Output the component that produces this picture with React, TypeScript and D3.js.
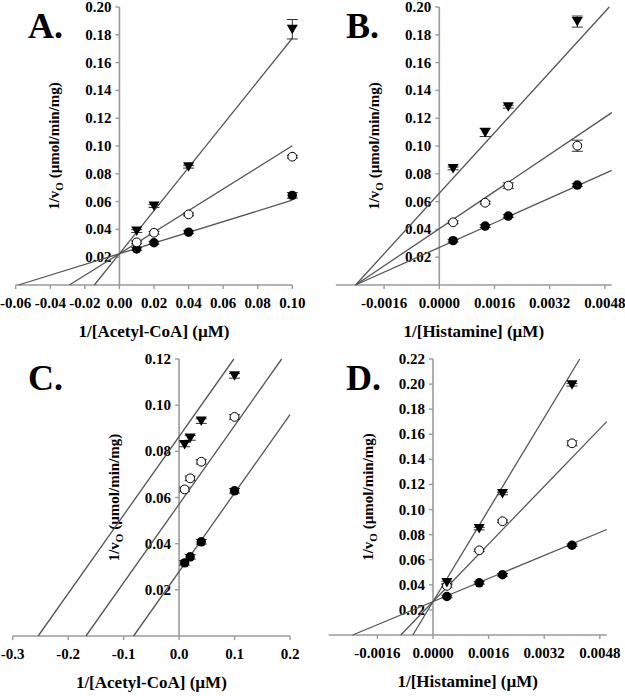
import React from "react";
import * as d3 from "d3";

// ---------- Data ----------
// Panel A: varied Acetyl-CoA
const acoaConc = [0.01, 0.02, 0.04, 0.1];
const aFilled = [0.0259, 0.0304, 0.038, 0.0645];
const aOpen = [0.0307, 0.0376, 0.0508, 0.0923];
const aTri = [0.0388, 0.0568, 0.0851, 0.184];
const aFilledErr = [0.001, 0.001, 0.001, 0.002];
const aOpenErr = [0.001, 0.001, 0.001, 0.001];
const aTriErr = [0.001, 0.001, 0.001, 0.007];
const aIntercepts = [0.0225, 0.0225, 0.0225];
const aSlopes = [0.385, 0.777, 1.55];
const aXTicks = [-0.06, -0.04, -0.02, 0.0, 0.02, 0.04, 0.06, 0.08, 0.1];
const aYTicks = [0.02, 0.04, 0.06, 0.08, 0.1, 0.12, 0.14, 0.16, 0.18, 0.2];

// Panel B: varied Histamine
const histConc = [0.0004, 0.00133, 0.002, 0.004];
const bFilled = [0.0319, 0.0424, 0.0496, 0.0719];
const bOpen = [0.0451, 0.0592, 0.0715, 0.1002];
const bTri = [0.0839, 0.1098, 0.1283, 0.1895];
const bFilledErr = [0.001, 0.001, 0.001, 0.001];
const bOpenErr = [0.001, 0.001, 0.002, 0.004];
const bTriErr = [0.001, 0.003, 0.001, 0.004];
const bIntercepts = [0.027, 0.0405, 0.066];
const bSlopes = [11.1, 16.7, 27.2];
const bXTicks = [-0.0016, 0.0, 0.0016, 0.0032, 0.0048];
const bYTicks = [0.02, 0.04, 0.06, 0.08, 0.1, 0.12, 0.14, 0.16, 0.18, 0.2];

// Panel C: varied Acetyl-CoA
const cFilled = [0.0317, 0.0343, 0.0408, 0.0629];
const cOpen = [0.0635, 0.0683, 0.0755, 0.0949];
const cTri = [0.083, 0.0858, 0.0931, 0.1127];
const cFilledErr = [0.001, 0.001, 0.001, 0.001];
const cOpenErr = [0.001, 0.001, 0.001, 0.001];
const cTriErr = [0.001, 0.001, 0.001, 0.001];
const cIntercepts = [0.0279, 0.0571, 0.0864];
const cSlopes = [0.34, 0.34, 0.34];
const cXTicks = [-0.3, -0.2, -0.1, 0.0, 0.1, 0.2];
const cYTicks = [0.02, 0.04, 0.06, 0.08, 0.1, 0.12];

// Panel D: varied Histamine
const dFilled = [0.0307, 0.0416, 0.048, 0.0715];
const dOpen = [0.0392, 0.0675, 0.0907, 0.1528];
const dTri = [0.0419, 0.0848, 0.1128, 0.1994];
const dFilledErr = [0.001, 0.001, 0.001, 0.001];
const dOpenErr = [0.001, 0.001, 0.001, 0.002];
const dTriErr = [0.001, 0.001, 0.001, 0.001];
const dIntercepts = [0.0266, 0.0266, 0.0266];
const dSlopes = [11.5, 28.7, 45.8];
const dXTicks = [-0.0016, 0.0, 0.0016, 0.0032, 0.0048];
const dYTicks = [0.02, 0.04, 0.06, 0.08, 0.1, 0.12, 0.14, 0.16, 0.18, 0.2, 0.22];

const acoaTitle = "1/[Acetyl-CoA] (\u00b5M)";
const histTitle = "1/[Histamine] (\u00b5M)";

// ---------- Rendering ----------
const FONT = "'Liberation Serif', 'Times New Roman', serif";
const AXIS = "#9a9a9a";
const LINE = "#555";

type Kind = "filled" | "open" | "tri";
interface Series { x: number[]; y: number[]; err: number[]; kind: Kind }

const fmt = (p: number) => (v: number) => d3.format(`.${p}f`)(v).replace("\u2212", "-");

interface PanelProps {
  letter: string;
  letterX: number;
  letterY: number;
  xDomain: [number, number];
  xRange: [number, number];
  yMax: number;
  yRange: [number, number];
  xTicks: number[];
  yTicks: number[];
  xDec: number;
  yDec: number;
  series: Series[];
  intercepts: number[];
  slopes: number[];
  lineEnd: number;
  xTitle: string;
}

function Marker({ kind, cx, cy }: { kind: Kind; cx: number; cy: number }) {
  if (kind === "filled") return <circle cx={cx} cy={cy} r={4.7} fill="#000" />;
  if (kind === "open")
    return <circle cx={cx} cy={cy} r={4.4} fill="#fff" stroke="#000" strokeWidth={1} />;
  const path = d3.path();
  path.moveTo(cx - 5.5, cy - 4.5);
  path.lineTo(cx + 5.5, cy - 4.5);
  path.lineTo(cx, cy + 5);
  path.closePath();
  return <path d={path.toString()} fill="#000" />;
}

function Panel(p: PanelProps) {
  const x = d3.scaleLinear().domain(p.xDomain).range(p.xRange);
  const y = d3.scaleLinear().domain([0, p.yMax]).range(p.yRange);
  const x0 = x(0);
  const y0 = y(0);
  const xf = fmt(p.xDec);
  const yf = fmt(p.yDec);
  const lineGen = d3
    .line<[number, number]>()
    .x((d) => x(d[0]))
    .y((d) => y(d[1]));
  const yMid = (y(0) + y(p.yMax)) / 2;
  const xMid = (x(p.xDomain[0]) + x(p.xDomain[1])) / 2;
  return (
    <g fontFamily={FONT} fontWeight="bold">
      <text x={p.letterX} y={p.letterY} fontSize={36} fill="#000">
        {p.letter}
      </text>
      {/* axes */}
      <line x1={x(p.xDomain[0])} x2={x(p.xDomain[1])} y1={y0} y2={y0} stroke={AXIS} strokeWidth={1.6} />
      <line x1={x0} x2={x0} y1={y0} y2={y(p.yMax)} stroke={AXIS} strokeWidth={1.6} />
      {p.xTicks.map((t, i) => (
        <g key={"xt" + i}>
          <line x1={x(t)} x2={x(t)} y1={y0} y2={y0 + 4} stroke={AXIS} strokeWidth={1.4} />
          <text x={x(t)} y={y0 + 23} fontSize={15} textAnchor="middle" fill="#000">
            {xf(t)}
          </text>
        </g>
      ))}
      {p.yTicks.map((t, i) => (
        <g key={"yt" + i}>
          <line x1={x0 - 4} x2={x0} y1={y(t)} y2={y(t)} stroke={AXIS} strokeWidth={1.4} />
          <text x={x0 - 8} y={y(t) + 5} fontSize={15} textAnchor="end" fill="#000">
            {yf(t)}
          </text>
        </g>
      ))}
      {/* titles */}
      <text x={xMid} y={y0 + 52} fontSize={17} textAnchor="middle" fill="#000">
        {p.xTitle}
      </text>
      <text
        transform={`translate(${x0 - 60},${yMid}) rotate(-90)`}
        fontSize={15}
        textAnchor="middle"
        fill="#000"
      >
        1/v
        <tspan fontSize={11} dy={4}>O</tspan>
        <tspan dy={-4}> (µmol/min/mg)</tspan>
      </text>
      {/* fit lines */}
      {p.intercepts.map((b, i) => {
        const m = p.slopes[i];
        const xs = -b / m;
        const xe = Math.min(p.lineEnd, (p.yMax - b) / m);
        const pts: [number, number][] = [
          [xs, 0],
          [xe, b + m * xe],
        ];
        return <path key={"l" + i} d={lineGen(pts) || ""} stroke={LINE} strokeWidth={1.3} fill="none" />;
      })}
      {/* error bars */}
      {p.series.map((s, si) =>
        s.x.map((xv, i) => {
          const cx = x(xv);
          const top = y(s.y[i] + s.err[i]);
          const bot = y(s.y[i] - s.err[i]);
          return (
            <g key={`e${si}-${i}`} stroke="#333" strokeWidth={1}>
              <line x1={cx} x2={cx} y1={top} y2={bot} />
              <line x1={cx - 5.5} x2={cx + 5.5} y1={top} y2={top} />
              <line x1={cx - 5.5} x2={cx + 5.5} y1={bot} y2={bot} />
            </g>
          );
        })
      )}
      {/* markers */}
      {p.series.map((s, si) =>
        s.x.map((xv, i) => <Marker key={`m${si}-${i}`} kind={s.kind} cx={x(xv)} cy={y(s.y[i])} />)
      )}
    </g>
  );
}

export default function App() {
  const aSeries: Series[] = [
    { x: acoaConc, y: aFilled, err: aFilledErr, kind: "filled" },
    { x: acoaConc, y: aOpen, err: aOpenErr, kind: "open" },
    { x: acoaConc, y: aTri, err: aTriErr, kind: "tri" },
  ];
  const bSeries: Series[] = [
    { x: histConc, y: bFilled, err: bFilledErr, kind: "filled" },
    { x: histConc, y: bOpen, err: bOpenErr, kind: "open" },
    { x: histConc, y: bTri, err: bTriErr, kind: "tri" },
  ];
  const cSeries: Series[] = [
    { x: acoaConc, y: cFilled, err: cFilledErr, kind: "filled" },
    { x: acoaConc, y: cOpen, err: cOpenErr, kind: "open" },
    { x: acoaConc, y: cTri, err: cTriErr, kind: "tri" },
  ];
  const dSeries: Series[] = [
    { x: histConc, y: dFilled, err: dFilledErr, kind: "filled" },
    { x: histConc, y: dOpen, err: dOpenErr, kind: "open" },
    { x: histConc, y: dTri, err: dTriErr, kind: "tri" },
  ];
  return (
    <svg
      width={625}
      height={696}
      viewBox="0 0 625 696"
      style={{ position: "absolute", left: 0, top: 0, background: "#fff" }}
    >
      <rect width={625} height={696} fill="#fff" />
      <Panel
        letter="A."
        letterX={28}
        letterY={38}
        xDomain={[-0.06, 0.1]}
        xRange={[15.7, 292.3]}
        yMax={0.2}
        yRange={[285, 7]}
        xTicks={aXTicks}
        yTicks={aYTicks}
        xDec={2}
        yDec={2}
        series={aSeries}
        intercepts={aIntercepts}
        slopes={aSlopes}
        lineEnd={0.1}
        xTitle={acoaTitle}
      />
      <Panel
        letter="B."
        letterX={346}
        letterY={38}
        xDomain={[-0.003, 0.005]}
        xRange={[335.8, 611.8]}
        yMax={0.2}
        yRange={[285, 7]}
        xTicks={bXTicks}
        yTicks={bYTicks}
        xDec={4}
        yDec={2}
        series={bSeries}
        intercepts={bIntercepts}
        slopes={bSlopes}
        lineEnd={0.005}
        xTitle={histTitle}
      />
      <Panel
        letter="C."
        letterX={28}
        letterY={390}
        xDomain={[-0.3, 0.2]}
        xRange={[12.7, 290]}
        yMax={0.12}
        yRange={[636, 359]}
        xTicks={cXTicks}
        yTicks={cYTicks}
        xDec={1}
        yDec={2}
        series={cSeries}
        intercepts={cIntercepts}
        slopes={cSlopes}
        lineEnd={0.2}
        xTitle={acoaTitle}
      />
      <Panel
        letter="D."
        letterX={346}
        letterY={390}
        xDomain={[-0.003, 0.005]}
        xRange={[328.75, 606.75]}
        yMax={0.22}
        yRange={[635, 359]}
        xTicks={dXTicks}
        yTicks={dYTicks}
        xDec={4}
        yDec={2}
        series={dSeries}
        intercepts={dIntercepts}
        slopes={dSlopes}
        lineEnd={0.005}
        xTitle={histTitle}
      />
    </svg>
  );
}
